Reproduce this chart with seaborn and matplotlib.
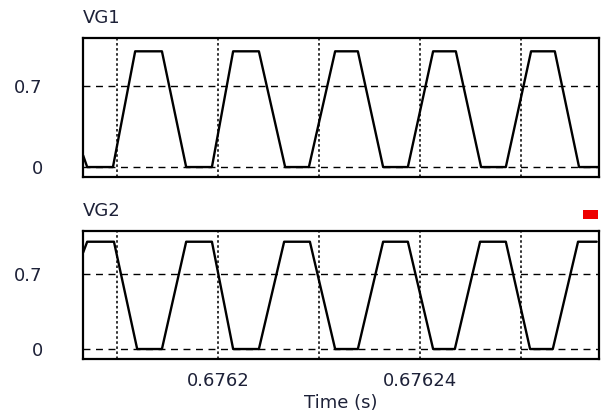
import matplotlib
matplotlib.use("Agg")
import matplotlib.pyplot as plt
from matplotlib.patches import Rectangle
import seaborn as sns
import pandas as pd

# Gate drive waveforms (corner points of the trapezoids)
vg1_time = [0.6761733, 0.6761741, 0.6761792, 0.6761836, 0.6761889, 0.6761937,
            0.6761988, 0.6762030, 0.6762081, 0.6762133, 0.6762180, 0.6762232,
            0.6762277, 0.6762327, 0.6762376, 0.6762426, 0.6762471, 0.6762521,
            0.6762570, 0.6762620, 0.6762667, 0.6762715, 0.6762754]
vg1_value = [0.1, 0, 0, 1, 1, 0, 0, 1, 1, 0, 0, 1, 1, 0, 0, 1, 1, 0, 0, 1, 1, 0, 0]

vg2_time = [0.6761733, 0.6761741, 0.6761794, 0.6761840, 0.6761889, 0.6761937,
            0.6761988, 0.6762030, 0.6762081, 0.6762131, 0.6762182, 0.6762232,
            0.6762277, 0.6762327, 0.6762376, 0.6762426, 0.6762469, 0.6762519,
            0.6762570, 0.6762618, 0.6762663, 0.6762713, 0.6762750]
vg2_value = [0.9, 1, 1, 0, 0, 1, 1, 0, 0, 1, 1, 0, 0, 1, 1, 0, 0, 1, 1, 0, 0, 1, 1]

grid_times = [0.67618, 0.67620, 0.67622, 0.67624, 0.67626]
time_tick_labels = ["", "0.6762", "", "0.67624", ""]
level_ticks = [0, 0.7]
level_labels = ["0", "0.7"]

sns.set_style("white")
plt.rcParams["font.family"] = ["DejaVu Sans"]

TEXT = "#1d2138"
FS = 13
fig = plt.figure(figsize=(6.03, 4.15), dpi=100)
ax1 = fig.add_axes([83 / 603, 1 - 177 / 415, 516 / 603, 139 / 415])
ax2 = fig.add_axes([83 / 603, 1 - 359 / 415, 516 / 603, 128 / 415])

panels = [
    (ax1, vg1_time, vg1_value, "VG1", (-0.086, 1.115)),
    (ax2, vg2_time, vg2_value, "VG2", (-0.093, 1.10)),
]

for ax, t, v, name, ylim in panels:
    df = pd.DataFrame({"t": t, "v": v})
    sns.lineplot(data=df, x="t", y="v", ax=ax, color="black", lw=1.7,
                 estimator=None, sort=False)
    ax.set_xlim(0.67617327, 0.67627545)
    ax.set_ylim(*ylim)
    for yv in level_ticks:
        ax.axhline(yv, color="black", lw=1.0, ls=(0, (5, 4)), zorder=1)
    for xv in grid_times:
        ax.axvline(xv, color="#222222", lw=1.3, ls=(0, (1.4, 1.4)), zorder=1)
    ax.set_yticks(level_ticks)
    ax.set_yticklabels(level_labels, fontsize=FS, color=TEXT)
    ax.set_xticks(grid_times)
    ax.tick_params(axis="both", length=0)
    ax.tick_params(axis="y", pad=29)
    ax.tick_params(axis="x", pad=9)
    ax.set_xlabel("")
    ax.set_ylabel("")
    ax.set_title(name, loc="left", fontsize=FS, color=TEXT, pad=11)
    for s in ax.spines.values():
        s.set_visible(True)
        s.set_color("black")
        s.set_linewidth(1.6)

ax1.set_xticklabels([])
ax2.set_xticklabels(time_tick_labels, fontsize=FS, color=TEXT)
ax2.set_xlabel("Time (s)", fontsize=FS, color=TEXT, labelpad=3)

fig.add_artist(Rectangle((583 / 603, 1 - 219 / 415), 15 / 603, 9 / 415,
                         transform=fig.transFigure, color="#ee0000", lw=0))

fig.savefig("out.png", dpi=100)
